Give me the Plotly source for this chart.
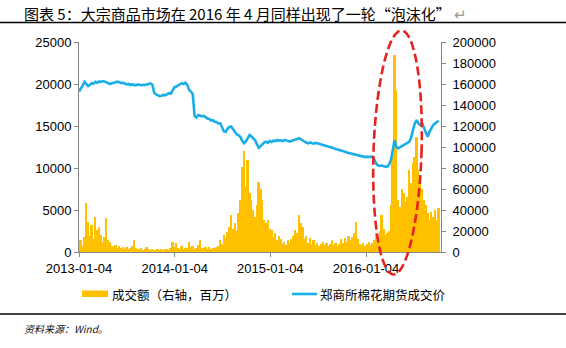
import numpy as np
import pandas as pd
import plotly.graph_objects as go

# Weekly observations (Fridays) from 2013-01-04
dates = pd.date_range("2013-01-04", periods=197, freq="7D")

# 成交额（右轴，百万）
turnover = [
    8000, 11000, 6000, 14000, 46700, 28600, 15000, 25700, 12000, 33600,
    21000, 24000, 16200, 10000, 14000, 32000, 11400, 9800, 6000, 5000,
    7000, 4000, 5500, 3500, 4500, 3000, 5000, 3000, 4000, 6000,
    11400, 4000, 3000, 2500, 3500, 2000, 3000, 5000, 2500, 2000,
    3000, 2000, 1500, 2500, 2000, 3000, 2000, 2500, 3000, 2000,
    3500, 9800, 5000, 9000, 4000, 3000, 5500, 3000, 4000, 3500,
    9800, 5000, 6000, 3000, 4000, 7000, 11400, 4000, 3500, 5000,
    3000, 4500, 3000, 4000, 3500, 5000, 6000, 11400, 8000, 16000,
    13000, 19000, 24000, 35200, 22000, 27300, 20000, 36800, 49500, 81200,
    96500, 62200, 87600, 56000, 49500, 40000, 33600, 45000, 67000, 60000,
    49500, 30500, 28000, 30500, 22000, 21000, 14000, 18000, 11400, 15000,
    12000, 8000, 10000, 7000, 11000, 9000, 12000, 15000, 21000, 18000,
    35200, 28000, 24000, 12000, 15000, 9000, 13000, 8000, 11000, 7000,
    9000, 6000, 8000, 10000, 7000, 9000, 6000, 8000, 11000, 7000,
    9000, 6000, 8000, 12000, 9000, 13000, 10000, 15000, 11000, 14000,
    18000, 28900, 12000, 8000, 7000, 9000, 6000, 8000, 10000, 7000,
    9000, 11000, 17800, 12000, 20000, 35200, 22000, 16000, 17800, 20000,
    45000, 90800, 187600, 154300, 49500, 43000, 60000, 56000, 48000, 52700,
    78000, 66000, 84700, 90800, 109800, 78000, 71700, 60000, 49500, 45000,
    36800, 30500, 38000, 33000, 40000, 30500, 42000,
]

# 郑商所棉花期货成交价
price = [
    19100, 19400, 19800, 20250, 20000, 19750, 19900, 20100, 20050, 20250,
    20150, 20300, 20250, 20350, 20280, 20200, 20050, 20000, 20100, 20150,
    20250, 20280, 20200, 20100, 20150, 20000, 19950, 20000, 19880, 19950,
    19900, 19850, 19950, 19900, 19850, 19900, 19880, 19950, 20000, 20080,
    19900, 18950, 18750, 18650, 18550, 18600, 18700, 18650, 18750, 18900,
    18850, 19200, 19600, 19700, 19850, 20050, 20100, 20000, 20150, 19900,
    19300, 19100, 18800, 16200, 16000, 16300, 16250, 16150, 16200, 16000,
    15900, 15850, 15650, 15700, 15500, 15450, 15300, 15320, 14900, 14350,
    14300, 14700, 14900, 14920, 14600, 14350, 14000, 13900, 13700, 13200,
    12950, 13200, 13600, 13930, 13750, 13500, 13300, 12800, 12400, 12600,
    12900, 13050, 13130, 13000, 13200, 13100, 13250, 13200, 13330, 13250,
    13300, 13200, 13350, 13250, 13150, 13130, 13250, 13300, 13350, 13450,
    13550, 13400, 13250, 13100, 13000, 12940, 13050, 12950, 12900, 13000,
    12940, 12900, 12800, 12750, 12700, 12650, 12600, 12540, 12500, 12350,
    12250, 12200, 12150, 12100, 12000, 11940, 11850, 11800, 11750, 11700,
    11650, 11600, 11550, 11450, 11400, 11350, 11300, 11350, 11300, 11350,
    11300, 11000, 10500, 10300, 10250, 10300, 10200, 10150, 10160, 10400,
    10950, 12300, 13330, 12500, 12340, 12500, 12650, 12740, 12900, 13000,
    13130, 13600, 14500, 15300, 15710, 15300, 15120, 15320, 14800, 14200,
    13730, 14300, 14720, 15100, 15300, 15510, 15630,
]

x_ticks = ["2013-01-04", "2014-01-04", "2015-01-04", "2016-01-04"]
bar_name = "成交额（右轴，百万）"
line_name = "郑商所棉花期货成交价"
title_text = "图表 5：大宗商品市场在 2016 年 4 月同样出现了一轮“泡沫化”"
source_text = "资料来源：Wind。"

W, H = 566, 348
L, R, T, B = 79, 441, 42, 252          # plot area in pixels


def px(x):
    return (x - L) / (R - L)


def py(y):
    return (B - y) / (B - T)


FONT = "Liberation Sans, Arial, Noto Sans CJK SC, sans-serif"
CJK = "Noto Sans CJK SC, Liberation Sans, sans-serif"
AXIS_GREY = "#868686"

fig = go.Figure()
fig.add_trace(go.Bar(
    x=dates, y=turnover, name=bar_name, yaxis="y",
    marker=dict(color="#FFC000", line=dict(width=0)),
    showlegend=False,
))
fig.add_trace(go.Scatter(
    x=dates, y=price, name=line_name, yaxis="y2", mode="lines",
    line=dict(color="#1AAEE8", width=2.6),
    showlegend=False,
))

axis_common = dict(
    showgrid=False, zeroline=False, showline=True, linecolor=AXIS_GREY,
    linewidth=1, ticks="outside", ticklen=4, tickcolor=AXIS_GREY,
    tickfont=dict(family=FONT, size=13, color="#000"),
)

fig.update_layout(
    width=W, height=H,
    margin=dict(l=L, r=W - R, t=T, b=H - B, pad=0),
    paper_bgcolor="white", plot_bgcolor="white",
    bargap=0,
    showlegend=False,
    xaxis=dict(
        type="date", range=["2013-01-04", "2016-10-16"],
        tickvals=x_ticks, ticktext=x_ticks, **axis_common,
    ),
    yaxis=dict(
        side="right", range=[0, 200000], dtick=20000, tickformat="d",
        ticklabelstandoff=4, **axis_common,
    ),
    yaxis2=dict(
        side="left", overlaying="y", range=[0, 25000], dtick=5000,
        tickformat="d", **axis_common,
    ),
)

shapes = []
# rules above and below the chart block
for yy in (22.5, 314):
    shapes.append(dict(type="line", xref="paper", yref="paper",
                       x0=px(0), x1=px(W), y0=py(yy), y1=py(yy),
                       line=dict(color="#000", width=1.5)))

# highlight ellipse around the April 2016 spike (slightly tilted)
cx, cy, rx, ry, ang = 397.5, 152.5, 24, 122, np.deg2rad(1.9)
t = np.linspace(0, 2 * np.pi, 121)
ex = rx * np.cos(t)
ey = ry * np.sin(t)             # upward positive
rxp = cx + ex * np.cos(ang) + ey * np.sin(ang)
ryp = cy - (-ex * np.sin(ang) + ey * np.cos(ang))
path = "M " + " L ".join(f"{px(a):.5f},{py(b):.5f}" for a, b in zip(rxp, ryp)) + " Z"
shapes.append(dict(type="path", xref="paper", yref="paper", path=path,
                   line=dict(color="#E3231F", width=2.6, dash="9px,4px"),
                   layer="above"))

# legend swatches
shapes.append(dict(type="rect", xref="paper", yref="paper",
                   x0=px(82), x1=px(108), y0=py(297), y1=py(290.5),
                   fillcolor="#FFC000", line=dict(width=0)))
shapes.append(dict(type="line", xref="paper", yref="paper",
                   x0=px(292), x1=px(317), y0=py(294), y1=py(294),
                   line=dict(color="#1AAEE8", width=2.6)))
fig.update_layout(shapes=shapes)

annotations = [
    dict(text=title_text + ' <span style="color:#999">↵</span>',
         x=px(22), y=py(13), xanchor="left", yanchor="middle",
         font=dict(family=CJK, size=15, color="#000")),
    dict(text=bar_name, x=px(110), y=py(294), xanchor="left", yanchor="middle",
         font=dict(family=CJK, size=12.5, color="#000")),
    dict(text=line_name, x=px(318), y=py(294), xanchor="left", yanchor="middle",
         font=dict(family=CJK, size=12.5, color="#000")),
    dict(text="<i>" + source_text + "</i>", x=px(22), y=py(328),
         xanchor="left", yanchor="middle",
         font=dict(family=CJK, size=10, color="#111")),
]
for a in annotations:
    a.update(xref="paper", yref="paper", showarrow=False)
fig.update_layout(annotations=annotations)

fig.write_html("out.html")
